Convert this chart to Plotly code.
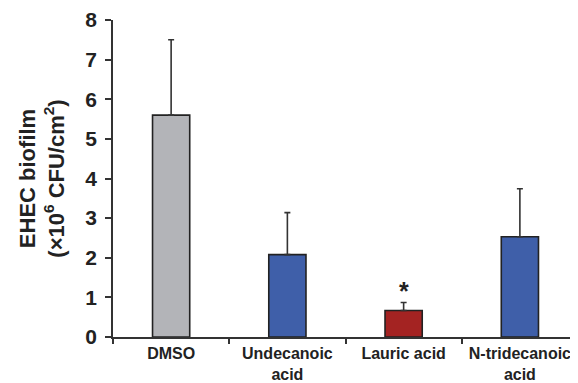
import plotly.graph_objects as go

categories = ["DMSO", "Undecanoic<br>acid", "Lauric acid", "N-tridecanoic<br>acid"]
means = [5.6, 2.08, 0.67, 2.53]
errors = [1.9, 1.06, 0.2, 1.21]
colors = ["#b3b4b8", "#3f5fa9", "#a42322"]
bar_colors = [colors[0], colors[1], colors[2], colors[1]]
significance = ["", "", "*", ""]
y_ticks = [0, 1, 2, 3, 4, 5, 6, 7, 8]

fig = go.Figure()
fig.add_trace(go.Bar(
    x=categories, y=means,
    width=0.32,
    marker=dict(color=bar_colors, line=dict(color="#222222", width=1.6)),
    error_y=dict(type="data", array=errors, arrayminus=[0]*len(errors), symmetric=False,
                 color="#333333", thickness=1.6, width=3),
))

for c, m, e, s in zip(categories, means, errors, significance):
    if s:
        fig.add_annotation(x=c, y=m + e, text="<b>" + s + "</b>", showarrow=False,
                           yanchor="bottom", yshift=-4,
                           font=dict(family="Liberation Sans, Arial", size=25, color="#222222"))

fig.update_layout(
    width=570, height=375,
    margin=dict(l=105, r=0, t=12, b=46),
    paper_bgcolor="white", plot_bgcolor="white",
    showlegend=False,
    font=dict(family="Liberation Sans, Arial", color="#222222"),
    xaxis=dict(
        type="category", range=[-0.5, 3.5], automargin=False,
        showline=True, linecolor="#333333", linewidth=1.5,
        ticks="outside", tickson="boundaries", ticklen=5, tickwidth=1.5, tickcolor="#333333",
        ticklabelstandoff=1,
        tickfont=dict(size=16, family="Liberation Sans, Arial", weight="bold", color="#222222"),
        showgrid=False, zeroline=False,
    ),
    yaxis=dict(
        range=[0, 8], tickvals=y_ticks, automargin=False,
        showline=True, linecolor="#333333", linewidth=1.5,
        ticks="outside", ticklen=6, tickwidth=1.5, tickcolor="#333333",
        ticklabelstandoff=4,
        tickfont=dict(size=21, family="Liberation Sans, Arial", weight="bold", color="#222222"),
        showgrid=False, zeroline=False,
        title=dict(text="<b>EHEC biofilm<br>(×10<sup>6</sup> CFU/cm<sup>2</sup>)</b>",
                   font=dict(size=22, family="Liberation Sans, Arial", color="#222222"),
                   standoff=15),
    ),
)

fig.write_html("out.html")
